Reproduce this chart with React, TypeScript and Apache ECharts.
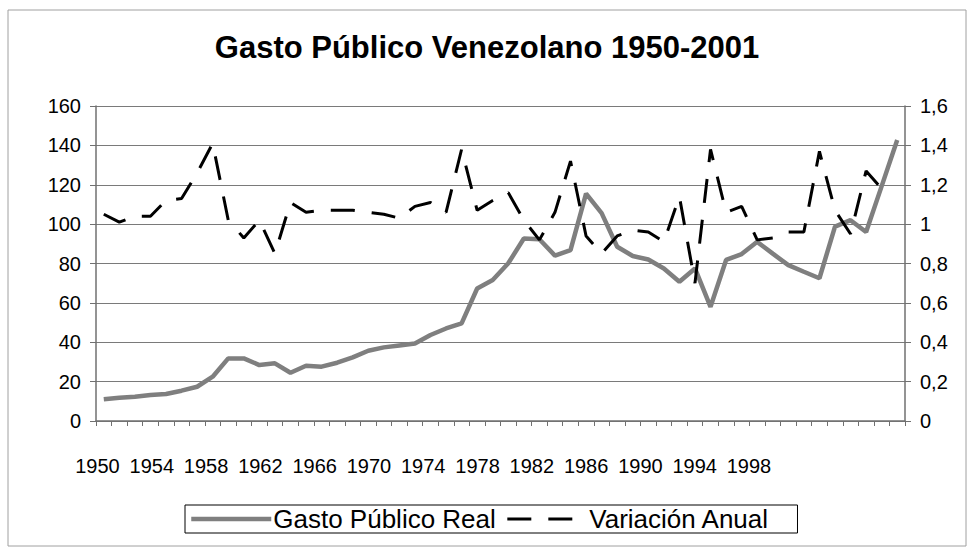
import React, { useEffect, useRef } from "react";
import * as echarts from "echarts";

const years = [
  "1950","1951","1952","1953","1954","1955","1956","1957","1958","1959",
  "1960","1961","1962","1963","1964","1965","1966","1967","1968","1969",
  "1970","1971","1972","1973","1974","1975","1976","1977","1978","1979",
  "1980","1981","1982","1983","1984","1985","1986","1987","1988","1989",
  "1990","1991","1992","1993","1994","1995","1996","1997","1998","1999",
  "2000","2001",
];

const yearLabels = ["1950","1954","1958","1962","1966","1970","1974","1978","1982","1986","1990","1994","1998"];

const gastoReal = [
  11.0, 11.8, 12.3, 13.2, 13.7, 15.4, 17.4, 22.5, 31.8, 31.8,
  28.4, 29.3, 24.5, 28.1, 27.6, 29.6, 32.3, 35.7, 37.4, 38.4,
  39.4, 43.7, 47.0, 49.6, 67.3, 71.6, 80.1, 92.7, 92.3, 84.0,
  86.8, 115.5, 105.6, 88.5, 83.8, 82.0, 77.5, 70.7, 77.5, 58.0,
  81.8, 84.8, 91.0, 85.0, 79.2, 75.8, 72.5, 98.7, 102.0, 96.0,
  119.3, 142.7,
];

const variacionAnual = [
  1.05, 1.01, 1.04, 1.04, 1.12, 1.13, 1.26, 1.41, 1.02, 0.93,
  1.02, 0.85, 1.11, 1.06, 1.07, 1.07, 1.07, 1.06, 1.05, 1.03,
  1.09, 1.11, 1.06, 1.38, 1.07, 1.12, 1.16, 1.02, 0.92, 1.06,
  1.32, 0.94, 0.85, 0.94, 0.97, 0.96, 0.91, 1.14, 0.70, 1.38,
  1.06, 1.09, 0.92, 0.93, 0.96, 0.96, 1.37, 1.07, 0.95, 1.27,
  1.18, null,
];

const FONT = "Liberation Sans, Arial, sans-serif";

export default function App() {
  const ref = useRef<HTMLDivElement>(null);

  useEffect(() => {
    if (!ref.current) return;
    const chart = echarts.init(ref.current, undefined, { renderer: "svg" });
    const fmtRight = (v: number) => {
      const r = Math.round(v * 10) / 10;
      return String(r).replace(".", ",");
    };
    chart.setOption({
      animation: false,
      backgroundColor: "#ffffff",
      textStyle: { fontFamily: FONT },
      title: {
        text: "Gasto Público Venezolano 1950-2001",
        left: "center",
        top: 27,
        textStyle: { fontFamily: FONT, fontSize: 31, fontWeight: "bold", color: "#000" },
      },
      graphic: [
        {
          type: "rect",
          shape: { x: 8, y: 10, width: 958, height: 536 },
          style: { fill: "none", stroke: "#a0a0a0", lineWidth: 1 },
          silent: true,
        },
      ],
      legend: {
        left: 185,
        top: 505,
        padding: [1, 28, 1, 4],
        borderColor: "#000",
        borderWidth: 1,
        itemGap: 10,
        itemWidth: 80,
        itemHeight: 10,
        textStyle: { fontFamily: FONT, fontSize: 26, color: "#000", padding: [0, 0, 0, -3] },
        data: [
          { name: "Gasto Público Real", itemStyle: { opacity: 0 }, lineStyle: { width: 4.5, color: "#7f7f7f" } },
          { name: "Variación Anual", itemStyle: { opacity: 0 }, lineStyle: { width: 3, color: "#000" } },
        ],
      },
      grid: [
        { left: 96, right: 69, top: 106, height: 315 },
        { left: 97.5, right: 225, top: 106, height: 315 },
      ],
      xAxis: [
        {
          type: "category",
          gridIndex: 0,
          data: years,
          boundaryGap: true,
          axisLine: { lineStyle: { color: "#707070", width: 1.5 } },
          axisTick: { show: true, interval: 0, length: 5, lineStyle: { color: "#707070" } },
          axisLabel: { show: false },
        },
        {
          type: "category",
          gridIndex: 1,
          data: yearLabels,
          boundaryGap: false,
          axisLine: { show: false },
          axisTick: { show: false },
          axisLabel: { interval: 0, fontSize: 20, color: "#000", margin: 35, fontFamily: FONT },
        },
      ],
      yAxis: [
        {
          type: "value",
          gridIndex: 0,
          min: 0,
          max: 160,
          interval: 20,
          axisLine: { show: true, lineStyle: { color: "#707070", width: 1.5 } },
          axisTick: { show: true, length: 6, lineStyle: { color: "#707070" } },
          axisLabel: { fontSize: 20, color: "#000", margin: 15, fontFamily: FONT },
          splitLine: { show: true, lineStyle: { color: "#7a7a7a", width: 1 } },
        },
        {
          type: "value",
          gridIndex: 0,
          position: "right",
          min: 0,
          max: 1.6,
          interval: 0.2,
          axisLine: { show: true, lineStyle: { color: "#707070", width: 1.5 } },
          axisTick: { show: true, length: 6, lineStyle: { color: "#707070" } },
          axisLabel: { fontSize: 20, color: "#000", margin: 15, fontFamily: FONT, formatter: fmtRight },
          splitLine: { show: false },
        },
        {
          type: "value",
          gridIndex: 1,
          show: false,
          min: 0,
          max: 1,
        },
      ],
      series: [
        {
          name: "Gasto Público Real",
          type: "line",
          xAxisIndex: 0,
          yAxisIndex: 0,
          data: gastoReal,
          symbol: "none",
          lineStyle: { color: "#7f7f7f", width: 4.5 },
          itemStyle: { color: "#7f7f7f" },
        },
        {
          name: "Variación Anual",
          type: "line",
          xAxisIndex: 0,
          yAxisIndex: 1,
          data: variacionAnual,
          symbol: "none",
          lineStyle: { color: "#000", width: 3, type: [24, 17] },
          itemStyle: { color: "#000" },
        },
      ],
    });
    return () => chart.dispose();
  }, []);

  return (
    <div
      ref={ref}
      style={{ position: "fixed", left: 0, top: 0, width: 974, height: 554, background: "#fff" }}
    />
  );
}
